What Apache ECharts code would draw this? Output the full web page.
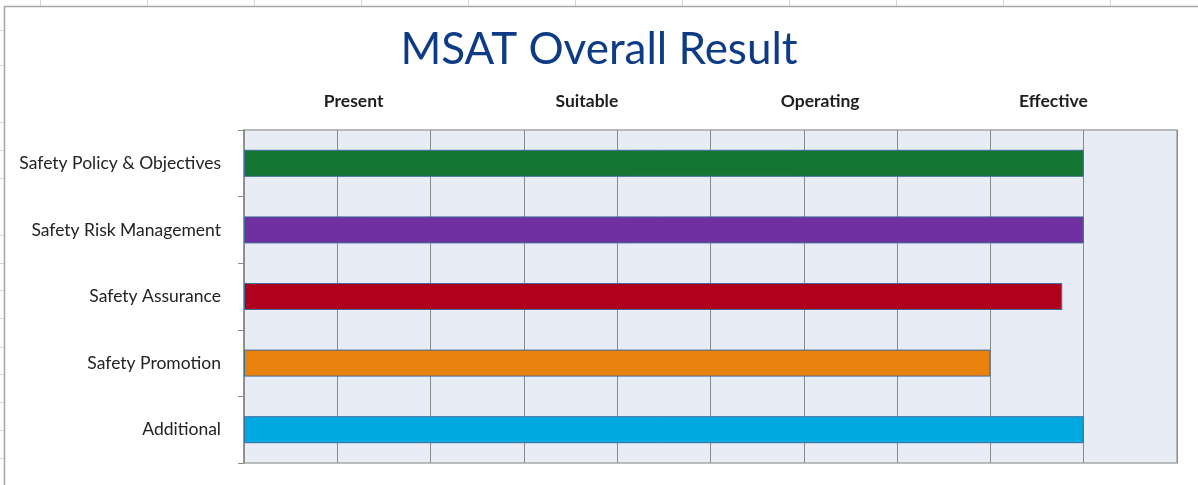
<!DOCTYPE html>
<html>
<head>
<meta charset="utf-8">
<script src="https://cdn.jsdelivr.net/npm/echarts@6/dist/echarts.min.js"></script>
<style>html,body{margin:0;padding:0;background:#fff;}#c{width:1198px;height:485px;}</style>
</head>
<body>
<div id="c"></div>
<script>
const categories = ['Safety Policy & Objectives', 'Safety Risk Management', 'Safety Assurance', 'Safety Promotion', 'Additional'];
const values = [9, 9, 8.77, 8, 9];
const barColors = ['#157533', '#7030a0', '#af001e', '#e9810e', '#00a9e0'];
const levelLabels = ['Present', 'Suitable', 'Operating', 'Effective'];
const titleText = 'MSAT Overall Result';

const FONT = 'Lato, "Open Sans", sans-serif';
const chart = echarts.init(document.getElementById('c'));

// spreadsheet background decoration
const deco = [];
[40,147,254,361,468,575,682,789,896,1003,1110].forEach(x => {
  deco.push({type:'line', silent:true, shape:{x1:x+0.5,y1:0,x2:x+0.5,y2:6}, style:{stroke:'#d6d6d6', lineWidth:1}});
});
[30,65,122,150,178,235,263,290,318,347,374,402,430,458].forEach(y => {
  deco.push({type:'line', silent:true, shape:{x1:0,y1:y+0.5,x2:4,y2:y+0.5}, style:{stroke:'#d6d6d6', lineWidth:1}});
});
deco.push({type:'polyline', silent:true, shape:{points:[[4.5,490],[4.5,6.5],[1200,6.5]]}, style:{stroke:'#a6a6a6', lineWidth:1.5, fill:null}});

chart.setOption({
  backgroundColor: '#ffffff',
  animation: false,
  graphic: deco,
  title: {
    text: titleText, left: 'center', top: 23,
    textStyle: {fontFamily: FONT, fontSize: 44, fontWeight: 'normal', color: '#0e3b86'}
  },
  grid: [
    {left: 244, right: 21, top: 130, bottom: 22, show: true, backgroundColor: '#e8ecf4', borderColor: '#a6a6a6', borderWidth: 1.5},
    {left: 237, right: 28, top: 130, bottom: 22, show: false}
  ],
  xAxis: [
    {
      type: 'value', gridIndex: 0, min: 0, max: 10, interval: 1,
      axisLabel: {show: false}, axisLine: {show: false}, axisTick: {show: false},
      splitLine: {show: true, lineStyle: {color: '#8a8a8a', width: 1}}
    },
    {
      type: 'category', gridIndex: 1, position: 'top', data: levelLabels,
      axisLine: {show: false}, axisTick: {show: false}, splitLine: {show: false},
      axisLabel: {margin: 20, fontFamily: FONT, fontSize: 17.5, fontWeight: 'bold', color: '#1e1e1e'}
    }
  ],
  yAxis: [
    {
      type: 'category', gridIndex: 0, data: categories, inverse: true,
      axisLine: {show: true, lineStyle: {color: '#8a8a8a', width: 1.5}},
      axisTick: {show: true, length: 6, lineStyle: {color: '#8a8a8a'}},
      axisLabel: {margin: 23, fontFamily: FONT, fontSize: 17.5, color: '#222'}
    },
    {type: 'value', gridIndex: 1, show: false}
  ],
  series: [{
    type: 'bar', xAxisIndex: 0, yAxisIndex: 0, barWidth: 27,
    data: values.map((v, i) => ({value: v, itemStyle: {color: barColors[i]}})),
    itemStyle: {borderColor: '#3f6e9c', borderWidth: 1}
  }]
});
</script>
</body>
</html>
